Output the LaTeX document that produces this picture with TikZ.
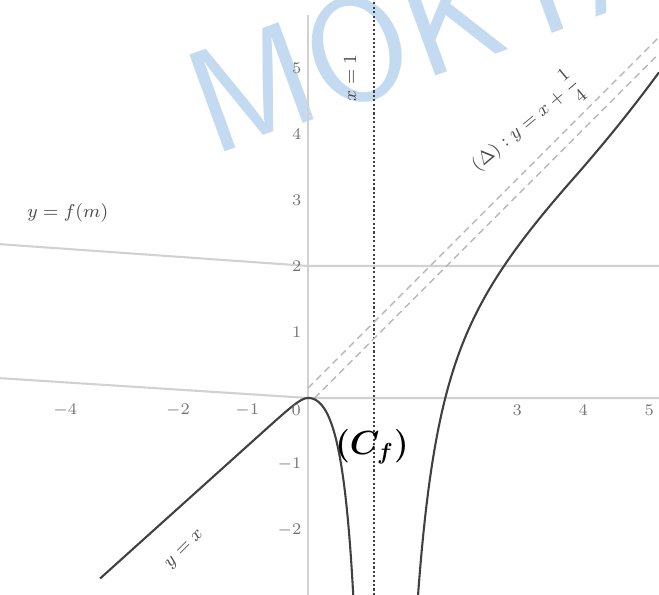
\documentclass[tikz,border=0pt]{standalone}
\usepackage{amsmath}
\usepackage{xcolor}
\usepackage{tikz}
\usetikzlibrary{arrows.meta, positioning}

\definecolor{axisgray}{gray}{0.82}
\definecolor{markblue}{RGB}{176,206,236}

\begin{document}
\begin{tikzpicture}[
    x=1cm, y=1cm,
    every node/.style={font=\footnotesize, text=black!70},
    axis/.style={draw=axisgray, line width=0.9pt},
    asym/.style={draw=black!28, densely dashed, line width=0.6pt},
    vasym/.style={draw=black!75, densely dotted, line width=0.9pt},
    curve/.style={draw=black!75, line width=0.9pt},
    ticklab/.style={font=\scriptsize, text=black!55, inner sep=1pt}
]
\useasboundingbox (-4.667,-2.985) rectangle (5.318,6.03);

\begin{scope}
\clip (-4.667,-2.985) rectangle (5.318,6.03);

% Watermark
\node[font=\sffamily\fontsize{64}{64}\selectfont, text=markblue, text opacity=0.75,
      rotate=20, anchor=base west, inner sep=0pt] (mark) at (-1.46,3.65) {MOKTA};

% Axes and horizontal line
\draw[axis] (-4.667,0.30) -- (0,0) -- (5.318,0);
\draw[axis] (0,-2.985) -- (0,5.8);
\draw[axis] (-4.667,2.33) -- (0,2) -- (5.318,2);

% Asymptotes
\draw[vasym] (1,-2.985) -- (1,6.03);
\draw[asym] (0,0.15) -- (5.318,5.468);
\draw[asym] (0.1,0) -- (5.318,5.218);

% Curve
\draw[curve] plot[domain=-3.15:0, samples=80] (\x,{0.9*\x+0.1*(1-exp(9*\x))});
\draw[curve] plot[domain=0:0.7, samples=60] (\x,{-2*\x*\x/(1-\x)});
\draw[curve] plot[domain=1.6:5.318, samples=150]
    (\x,{\x-0.493-1.851/((\x-1)*(\x-1))+(\x>4)*0.12*(\x-4)*(\x-4)});
\end{scope}

% Tick labels
\foreach \n/\px in {-4/-3.68, -2/-1.97, -1/-0.92, 3/3.17, 4/4.17, 5/5.17}
    \node[ticklab] (xl\n) at (\px,-0.18) {$\n$};
\foreach \n in {-2, -1, 1, 2, 3, 4, 5}
    \node[ticklab, anchor=east] (yl\n) at (-0.06,\n) {$\n$};
\node[ticklab] (orig) at (-0.18,-0.18) {$0$};

% Labels
\node (lf) at (-3.64,2.8) {$y=f(m)$};
\node[rotate=90] (lv) at (0.64,4.85) {$x=1$};
\node[rotate=40] (ld) at (3.3,4.15) {$(\Delta):y=x+\dfrac{1}{4}$};
\node[rotate=45] (ll) at (-1.86,-2.3) {$y=x$};
\node[font=\Large, text=black] (lc) at (0.97,-0.74) {$\boldsymbol{(C_f)}$};
\end{tikzpicture}
\end{document}
